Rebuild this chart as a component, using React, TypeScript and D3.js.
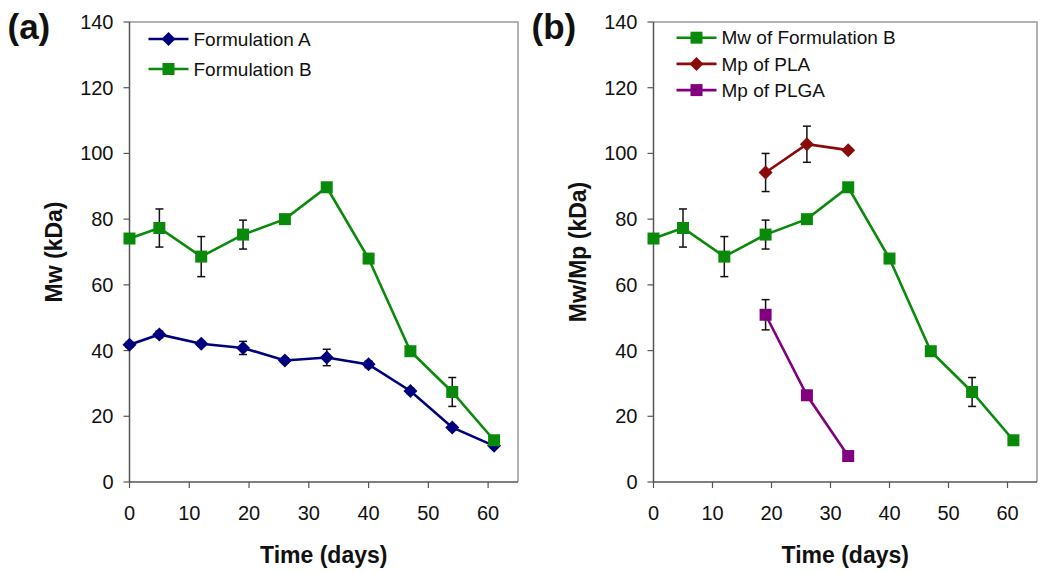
import React from "react";
import * as d3 from "d3";

const days = [0, 5, 12, 19, 26, 33, 40, 47, 54, 61];
const formA = [41.8, 44.9, 42.1, 40.8, 37.0, 37.9, 35.8, 27.7, 16.6, 11.0];
const formAErr = [0.8, 1.0, 0.8, 2.0, 0.8, 2.5, 1.0, 0.8, 0.8, 0.6];
const formB = [74.1, 77.3, 68.6, 75.3, 80.0, 89.7, 68.0, 39.8, 27.4, 12.7];
const formBErr = [0, 5.8, 6.1, 4.4, 0, 0, 0, 0, 4.4, 0.8];
const plaDays = [19, 26, 33];
const plaMp = [94.2, 102.8, 101.0];
const plaErr = [5.8, 5.5, 0];
const plgaDays = [19, 26, 33];
const plgaMp = [50.9, 26.4, 7.9];
const plgaErr = [4.6, 0, 0];
const yTicks = [0, 20, 40, 60, 80, 100, 120, 140];
const xTicks = [0, 10, 20, 30, 40, 50, 60];

const NAVY = "#00007f";
const GREEN = "#0a8a0a";
const RED = "#8b0a0a";
const PURPLE = "#800080";

type Series = {
  name: string;
  x: number[];
  y: number[];
  err: number[];
  color: string;
  marker: "diamond" | "square";
};

const seriesA: Series[] = [
  { name: "Formulation A", x: days, y: formA, err: formAErr, color: NAVY, marker: "diamond" },
  { name: "Formulation B", x: days, y: formB, err: formBErr, color: GREEN, marker: "square" },
];
const seriesB: Series[] = [
  { name: "Mw of Formulation B", x: days, y: formB, err: formBErr, color: GREEN, marker: "square" },
  { name: "Mp of PLA", x: plaDays, y: plaMp, err: plaErr, color: RED, marker: "diamond" },
  { name: "Mp of PLGA", x: plgaDays, y: plgaMp, err: plgaErr, color: PURPLE, marker: "square" },
];

const FONT = "Liberation Sans, Arial, sans-serif";

function Marker({ cx, cy, type, color }: { cx: number; cy: number; type: string; color: string }) {
  if (type === "square") {
    const s = 12;
    return <rect x={cx - s / 2} y={cy - s / 2} width={s} height={s} fill={color} />;
  }
  const r = 7;
  return (
    <path
      d={`M${cx},${cy - r}L${cx + r},${cy}L${cx},${cy + r}L${cx - r},${cy}Z`}
      fill={color}
    />
  );
}

function Panel({
  left,
  right,
  label,
  yTitle,
  series,
  legendStep,
  legendY0,
}: {
  left: number;
  right: number;
  label: string;
  yTitle: string;
  series: Series[];
  legendStep: number;
  legendY0: number;
}) {
  const top = 22;
  const bottom = 482;
  const x = d3.scaleLinear().domain([0, 65]).range([left, right]);
  const y = d3.scaleLinear().domain([0, 140]).range([bottom, top]);
  const line = d3
    .line<[number, number]>()
    .x((d) => x(d[0]))
    .y((d) => y(d[1]));
  const axisColor = "#555";
  const cx = (left + right) / 2;
  return (
    <g>
      {/* frame */}
      <path
        d={`M${left},${top}H${right}V${bottom}`}
        fill="none"
        stroke="#9a9a9a"
        strokeWidth={1.5}
      />
      <line x1={left} y1={top} x2={left} y2={bottom} stroke={axisColor} strokeWidth={1.5} />
      <line x1={left} y1={bottom} x2={right} y2={bottom} stroke={axisColor} strokeWidth={1.5} />
      {yTicks.map((t) => (
        <g key={"y" + t}>
          <line x1={left - 6} x2={left} y1={y(t)} y2={y(t)} stroke={axisColor} strokeWidth={1.2} />
          <text
            x={left - 16}
            y={y(t)}
            dy="0.35em"
            textAnchor="end"
            fontFamily={FONT}
            fontSize={20}
            fill="#111"
          >
            {t}
          </text>
        </g>
      ))}
      {xTicks.map((t) => (
        <g key={"x" + t}>
          <line x1={x(t)} x2={x(t)} y1={bottom} y2={bottom + 6} stroke={axisColor} strokeWidth={1.2} />
          <text
            x={x(t)}
            y={520}
            textAnchor="middle"
            fontFamily={FONT}
            fontSize={20}
            fill="#111"
          >
            {t}
          </text>
        </g>
      ))}
      <text
        x={cx}
        y={563}
        textAnchor="middle"
        fontFamily={FONT}
        fontWeight="bold"
        fontSize={23}
        fill="#111"
      >
        Time (days)
      </text>
      <text
        transform={`translate(${left - 76},${(top + bottom) / 2}) rotate(-90)`}
        textAnchor="middle"
        dy="0.35em"
        fontFamily={FONT}
        fontWeight="bold"
        fontSize={23}
        fill="#111"
      >
        {yTitle}
      </text>
      <text
        x={left - 122}
        y={39}
        fontFamily={FONT}
        fontWeight="bold"
        fontSize={35}
        fill="#111"
      >
        {label}
      </text>
      {/* lines */}
      {series.map((s) => (
        <path
          key={s.name + "l"}
          d={line(s.x.map((v, i) => [v, s.y[i]] as [number, number])) || ""}
          fill="none"
          stroke={s.color}
          strokeWidth={2.6}
        />
      ))}
      {/* error bars + markers */}
      {series.map((s) => (
        <g key={s.name + "m"}>
          {s.x.map((v, i) =>
            s.err[i] > 0 ? (
              <g key={i} stroke="#111" strokeWidth={1.5}>
                <line x1={x(v)} x2={x(v)} y1={y(s.y[i] + s.err[i])} y2={y(s.y[i] - s.err[i])} />
                <line x1={x(v) - 4} x2={x(v) + 4} y1={y(s.y[i] + s.err[i])} y2={y(s.y[i] + s.err[i])} />
                <line x1={x(v) - 4} x2={x(v) + 4} y1={y(s.y[i] - s.err[i])} y2={y(s.y[i] - s.err[i])} />
              </g>
            ) : null
          )}
          {s.x.map((v, i) => (
            <Marker key={i} cx={x(v)} cy={y(s.y[i])} type={s.marker} color={s.color} />
          ))}
        </g>
      ))}
      {/* legend */}
      {series.map((s, i) => {
        const ly = legendY0 + i * legendStep;
        const lx0 = left + (label === "(a)" ? 19 : 23);
        return (
          <g key={s.name + "lg"}>
            <line x1={lx0} x2={lx0 + 40} y1={ly} y2={ly} stroke={s.color} strokeWidth={2.6} />
            <Marker cx={lx0 + 20} cy={ly} type={s.marker} color={s.color} />
            <text
              x={lx0 + 45}
              y={ly}
              dy="0.35em"
              fontFamily={FONT}
              fontSize={19}
              fill="#111"
            >
              {s.name}
            </text>
          </g>
        );
      })}
    </g>
  );
}

export default function App() {
  return (
    <svg
      width={1050}
      height={572}
      style={{ position: "absolute", left: 0, top: 0, background: "#fff" }}
    >
      <rect width={1050} height={572} fill="#fff" />
      <Panel
        left={129.5}
        right={518}
        label="(a)"
        yTitle="Mw (kDa)"
        series={seriesA}
        legendStep={30}
        legendY0={39}
      />
      <Panel
        left={653.5}
        right={1037}
        label="(b)"
        yTitle="Mw/Mp (kDa)"
        series={seriesB}
        legendStep={26.2}
        legendY0={37.7}
      />
    </svg>
  );
}
